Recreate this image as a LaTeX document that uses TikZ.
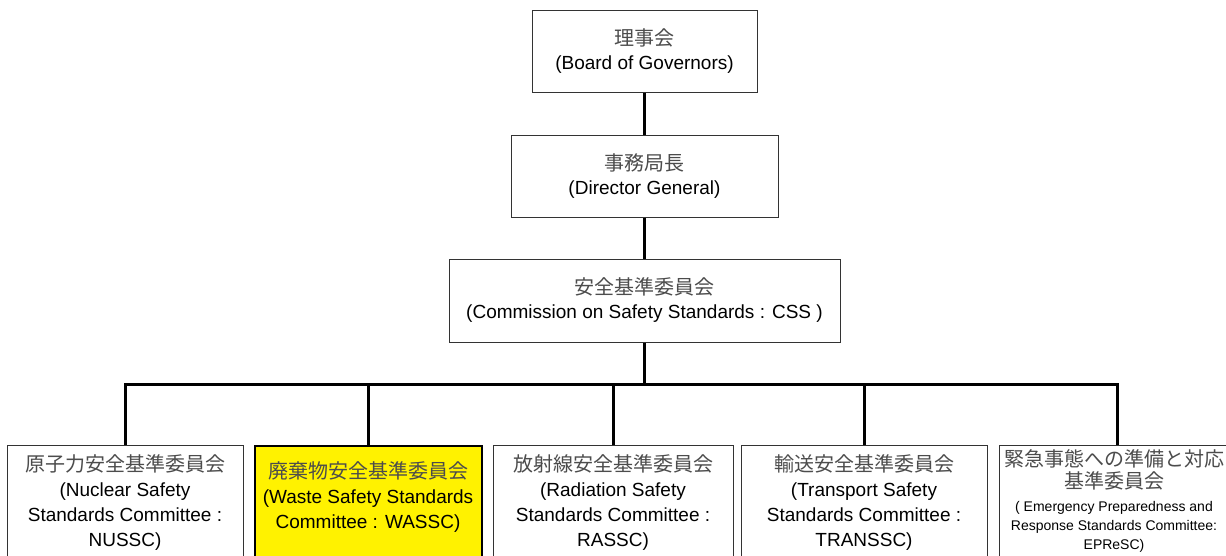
\documentclass[tikz,border=0pt]{standalone}
\usepackage{fontspec}
\setmainfont{Liberation Sans}
\newfontfamily\jp{Noto Sans CJK JP}
\usetikzlibrary{positioning}
\tikzstyle{head}=[rectangle,draw=black!80,line width=1pt,fill=white,
align=center,inner sep=0pt,font=\fontsize{19}{24}\selectfont]
\tikzstyle{unit}=[rectangle,draw=black!80,line width=1pt,fill=white,
anchor=north,minimum height=140pt,inner sep=0pt]
\tikzstyle{hunit}=[unit,draw=black,line width=2pt,fill=yellow]
\tikzstyle{unittext}=[anchor=north,align=center,inner sep=0pt,
font=\fontsize{19}{25}\selectfont]
\tikzstyle{wire}=[line width=3pt,black]
\newcommand{\jpname}[1]{{\jp\fontsize{20}{25}\selectfont\color{black!70}#1}}

\begin{document}
\begin{tikzpicture}[x=1pt,y=-1pt]
            \useasboundingbox (0,0) rectangle (1226,555);
            \clip (0,0) rectangle (1226,555);

            % TOP PART

            \node[head,minimum width=225pt,minimum height=82pt] (board) at (644.5,51)
                {\jpname{理事会}\\(Board of Governors)};
            \node[head,minimum width=267pt,minimum height=82pt,below=42pt of board] (dg)
                {\jpname{事務局長}\\(Director General)};
            \node[head,minimum width=391pt,minimum height=83pt,below=41pt of dg] (css)
                {\jpname{安全基準委員会}\\(Commission on Safety Standards : CSS )};

            \draw[wire] (board) -- (dg);
            \draw[wire] (dg) -- (css);

            % COMMITTEES PART

            \coordinate[below=42pt of css] (bus);

            \node[unit,minimum width=236pt] (nussc) at (125,445) {};
            \node[hunit,minimum width=227pt,right=10pt of nussc] (wassc) {};
            \node[unit,minimum width=240pt,right=10pt of wassc] (rassc) {};
            \node[unit,minimum width=246pt,right=7pt of rassc] (transsc) {};
            \node[unit,minimum width=236pt,right=11pt of transsc] (epresc) {};

            \node[unittext,below=9pt of nussc.north] (nussc-t)
                {\jpname{原子力安全基準委員会}\\(Nuclear Safety\\Standards Committee :\\NUSSC)};
            \node[unittext,below=17pt of wassc.north] (wassc-t)
                {\jpname{廃棄物安全基準委員会}\\(Waste Safety Standards\\Committee : WASSC)};
            \node[unittext,below=9pt of rassc.north] (rassc-t)
                {\jpname{放射線安全基準委員会}\\(Radiation Safety\\Standards Committee :\\RASSC)};
            \node[unittext,below=9pt of transsc.north] (transsc-t)
                {\jpname{輸送安全基準委員会}\\(Transport Safety\\Standards Committee :\\TRANSSC)};
            \node[unittext,below=4pt of epresc.north,xshift=-3pt,font=\fontsize{14}{19}\selectfont] (epresc-t)
                {\jpname{緊急事態への準備と対応}\\[3pt]\jpname{基準委員会}\\[4pt]
                 ( Emergency Preparedness and\\Response Standards Committee:\\EPReSC)};

            \draw[wire] (css) -- (bus);
            \foreach \u in {nussc,wassc,rassc,transsc,epresc}
                \draw[wire] (\u.north) |- (bus);

\end{tikzpicture}
\end{document}
